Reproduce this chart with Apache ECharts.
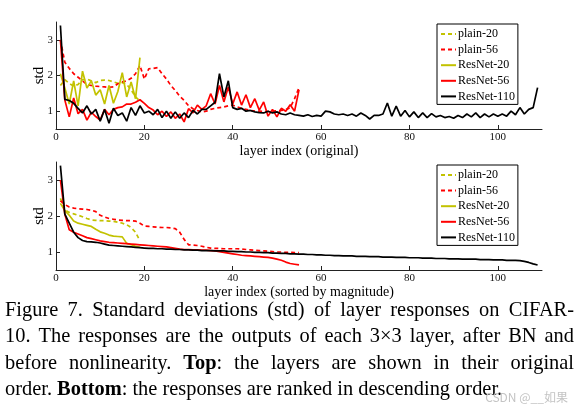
<!DOCTYPE html>
<html><head><meta charset="utf-8">
<script src="https://cdn.jsdelivr.net/npm/echarts@6/dist/echarts.min.js"></script>
<style>html,body{margin:0;padding:0;background:#fff}#c{width:580px;height:415px}</style>
</head><body><div id="c"></div><script>
// ---------- data ----------
const seriesNames = ['plain-20', 'plain-56', 'ResNet-20', 'ResNet-56', 'ResNet-110'];
const xTicks = [0, 20, 40, 60, 80, 100];
const yTicks = [1, 2, 3];
const xNameTop = 'layer index (original)';
const xNameBottom = 'layer index (sorted by magnitude)';
const yName = 'std';

// top: original order
const origPlain20 = [1.72,1.88,1.78,1.70,1.75,1.88,1.90,1.85,1.80,1.86,1.87,1.86,1.82,1.78,1.80,1.75,1.60,1.40,1.28];
const origPlain56 = [3.00,2.37,2.20,2.05,1.95,1.85,1.75,1.72,1.70,1.69,1.68,1.67,1.68,1.77,1.82,1.85,1.92,2.05,2.28,1.90,
  2.19,2.20,2.22,2.05,1.90,1.72,1.58,1.42,1.30,1.15,1.07,1.02,0.98,1.00,1.05,1.08,1.10,1.12,1.15,1.17,
  1.12,1.08,1.05,1.02,1.00,1.00,0.99,0.99,1.00,1.01,1.02,1.04,1.10,1.35,1.66];
const origRes20 = [2.05,1.65,1.20,1.85,1.15,2.12,1.65,1.85,1.45,1.60,1.20,1.72,1.22,1.55,2.08,1.40,1.82,1.35,2.50];
const origRes56 = [3.00,1.31,0.84,1.37,0.93,1.05,0.75,0.97,0.85,0.75,1.05,0.90,1.05,1.10,1.12,1.20,1.20,1.25,1.32,1.22,
  1.10,1.03,0.90,1.00,0.85,0.98,0.80,0.92,0.70,1.07,0.95,1.17,1.05,1.15,1.49,1.20,1.72,1.26,1.68,1.20,
  1.54,1.17,1.46,1.10,1.35,1.03,1.26,0.86,1.05,0.84,1.08,1.00,1.18,1.00,1.60];
const origRes110 = [3.40,1.33,1.30,1.22,1.08,0.95,1.15,0.92,1.05,0.72,1.05,0.66,1.08,0.88,0.95,0.72,1.10,0.88,1.15,0.95,
  1.00,0.90,1.05,0.82,1.00,0.80,0.98,0.80,0.95,0.82,1.02,0.92,1.05,1.05,1.15,1.25,2.05,1.40,1.85,1.10,
  1.05,1.08,1.00,1.02,0.98,0.96,0.95,1.00,0.95,0.98,0.92,0.90,0.95,0.90,0.88,0.86,0.90,0.85,0.88,0.86,
  1.00,0.98,0.92,0.90,0.92,0.88,0.92,0.86,0.95,0.88,0.78,0.88,0.88,0.92,1.23,0.86,1.14,0.86,1.02,0.84,
  0.98,0.82,0.95,0.82,0.93,0.84,0.88,0.82,0.85,0.80,0.88,0.82,0.92,0.84,0.95,0.82,0.92,0.84,0.92,0.86,
  0.92,0.86,1.00,0.90,1.10,0.92,1.05,1.10,1.66];

// bottom: sorted by magnitude
const sortPlain20 = [2.49,2.17,2.10,2.06,2.02,1.98,1.93,1.89,1.88,1.87,1.87,1.86,1.85,1.83,1.80,1.76,1.68,1.55,1.31];
const sortPlain56 = [2.42,2.32,2.25,2.22,2.20,2.19,2.18,2.16,2.12,2.02,1.97,1.93,1.91,1.89,1.88,1.87,1.87,1.86,1.80,1.72,
  1.71,1.70,1.69,1.68,1.68,1.67,1.65,1.55,1.35,1.20,1.19,1.18,1.16,1.13,1.11,1.10,1.10,1.09,1.09,1.09,
  1.09,1.08,1.07,1.06,1.05,1.04,1.03,1.02,1.01,1.00,1.00,0.99,0.99,0.98,0.98];
const sortRes20 = [2.35,2.15,2.02,1.86,1.80,1.77,1.74,1.71,1.63,1.56,1.52,1.47,1.44,1.43,1.42,1.24,1.20,1.16,1.13];
const sortRes56 = [3.00,2.05,1.62,1.55,1.50,1.45,1.40,1.37,1.34,1.31,1.29,1.27,1.26,1.25,1.24,1.23,1.22,1.21,1.20,1.19,
  1.18,1.17,1.16,1.15,1.14,1.12,1.10,1.08,1.07,1.07,1.06,1.06,1.05,1.05,1.04,1.03,1.01,0.99,0.97,0.95,
  0.93,0.91,0.90,0.89,0.88,0.87,0.86,0.85,0.83,0.80,0.77,0.72,0.68,0.66,0.64];
const sortRes110 = [3.40,2.05,1.80,1.55,1.40,1.32,1.29,1.28,1.27,1.25,1.22,1.19,1.18,1.17,1.16,1.15,1.14,1.13,1.12,1.11,
  1.10,1.10,1.09,1.09,1.08,1.08,1.07,1.07,1.06,1.06,1.05,1.05,1.04,1.04,1.04,1.03,1.03,1.03,1.02,1.02,
  1.01,1.01,1.00,1.00,0.99,0.99,0.98,0.98,0.97,0.97,0.96,0.96,0.95,0.95,0.94,0.94,0.93,0.93,0.92,0.92,
  0.91,0.91,0.90,0.90,0.89,0.89,0.89,0.88,0.88,0.88,0.87,0.87,0.87,0.86,0.86,0.86,0.85,0.85,0.85,0.84,
  0.84,0.84,0.83,0.83,0.83,0.82,0.82,0.82,0.81,0.81,0.81,0.80,0.80,0.80,0.80,0.79,0.79,0.79,0.78,0.78,
  0.78,0.77,0.77,0.77,0.76,0.74,0.71,0.67,0.64];

const captionLines = [
  'Figure 7. Standard deviations (std) of layer responses on CIFAR-',
  '10. The responses are the outputs of each 3×3 layer, after BN and',
  'before nonlinearity. *Top*: the layers are shown in their original',
  'order. *Bottom*: the responses are ranked in descending order.'
];
const watermark = 'CSDN @__如果';

// ---------- styling ----------
const serif = '"Liberation Serif", "Times New Roman", serif';
const YEL = '#c2c200', RED = '#ff0000', BLK = '#000000';
const styles = {
  'plain-20': {color: YEL, type: [4, 3]},
  'plain-56': {color: RED, type: [4, 3]},
  'ResNet-20': {color: YEL, type: 'solid'},
  'ResNet-56': {color: RED, type: 'solid'},
  'ResNet-110': {color: BLK, type: 'solid'}
};
const topData = {'plain-20': origPlain20, 'plain-56': origPlain56, 'ResNet-20': origRes20, 'ResNet-56': origRes56, 'ResNet-110': origRes110};
const botData = {'plain-20': sortPlain20, 'plain-56': sortPlain56, 'ResNet-20': sortRes20, 'ResNet-56': sortRes56, 'ResNet-110': sortRes110};

function mkSeries(dataMap, idx) {
  return seriesNames.map(n => ({
    name: n, type: 'line', xAxisIndex: idx, yAxisIndex: idx,
    data: dataMap[n].map((v, i) => [i + 1, v]),
    symbol: 'none', showSymbol: false, animation: false,
    color: styles[n].color,
    lineStyle: {color: styles[n].color, width: 1.7, type: styles[n].type},
    z: 2
  }));
}

const axisColor = '#222';
function xAxis(gi, name) {
  return {
    type: 'value', gridIndex: gi, min: 0, max: 110,
    name: name, nameLocation: 'middle', nameGap: 14,
    nameTextStyle: {fontFamily: serif, fontSize: 14, color: '#000'},
    axisLine: {lineStyle: {color: axisColor, width: 1}},
    axisTick: {inside: true, length: 4, customValues: xTicks, lineStyle: {color: axisColor}},
    axisLabel: {customValues: xTicks, margin: 3, fontFamily: serif, fontSize: 11, color: '#111'},
    splitLine: {show: false}
  };
}
function yAxis(gi) {
  return {
    type: 'value', gridIndex: gi, min: 0.5, max: 3.5,
    name: yName, nameLocation: 'middle', nameGap: 9, nameRotate: 90, nameMoveOverlap: false,
    nameTextStyle: {fontFamily: serif, fontSize: 15, color: '#000'},
    axisLine: {lineStyle: {color: axisColor, width: 1}},
    axisTick: {inside: true, length: 4, customValues: yTicks, lineStyle: {color: axisColor}},
    axisLabel: {customValues: yTicks, margin: 3, fontFamily: serif, fontSize: 11, color: '#111'},
    splitLine: {show: false}
  };
}
function legend(top) {
  return {
    left: 437, top: top, orient: 'vertical', data: seriesNames, selectedMode: false,
    itemWidth: 15, itemHeight: 10, itemGap: 3.6, padding: [4, 3, 2, 3],
    borderColor: '#000', borderWidth: 1, backgroundColor: '#fff', borderRadius: 0,
    itemStyle: {opacity: 0},
    textStyle: {fontFamily: serif, fontSize: 12, color: '#000', padding: [0, 0, 0, -3]}
  };
}

// ---------- caption (justified, word by word) ----------
const capSize = 20.4;
const ctx = document.createElement('canvas').getContext('2d');
function measure(t, bold) { ctx.font = (bold ? 'bold ' : '') + capSize + 'px ' + serif; return ctx.measureText(t).width; }
function parseWord(w) {
  const parts = [];
  const re = /\*([^*]+)\*|([^*]+)/g; let m;
  while ((m = re.exec(w))) { if (m[1]) parts.push({t: m[1], b: true}); else parts.push({t: m[2], b: false}); }
  return parts;
}
const capLeft = 5, capRight = 574;
const capYs = [310.5, 337, 363.5, 390];
const graphics = [];
captionLines.forEach((line, li) => {
  const words = line.split(' ').map(parseWord);
  const widths = words.map(ps => ps.reduce((s, p) => s + measure(p.t, p.b), 0));
  const total = widths.reduce((a, b) => a + b, 0);
  const justify = li < 3;
  const gap = justify ? (capRight - capLeft - total) / (words.length - 1) : measure(' ', false);
  let x = capLeft;
  words.forEach((ps, wi) => {
    let px = x;
    ps.forEach(p => {
      graphics.push({type: 'text', x: px, y: capYs[li], silent: true,
        style: {text: p.t, fill: '#000', fontFamily: serif, fontSize: capSize, fontWeight: p.b ? 'bold' : 'normal', align: 'left', verticalAlign: 'middle'}});
      px += measure(p.t, p.b);
    });
    x += widths[wi] + gap;
  });
});
graphics.push({type: 'text', x: 568, y: 397, silent: true, z: 10,
  style: {text: watermark, fill: '#c4c4c4', fontFamily: '"Noto Sans CJK SC", "Noto Sans", sans-serif', fontSize: 12, align: 'right', verticalAlign: 'middle'}});

const chart = echarts.init(document.getElementById('c'), null, {renderer: 'canvas'});
chart.setOption({
  animation: false,
  backgroundColor: '#fff',
  grid: [
    {left: 56, width: 486, top: 22, height: 107},
    {left: 56, width: 486, top: 162, height: 108}
  ],
  xAxis: [xAxis(0, xNameTop), xAxis(1, xNameBottom)],
  yAxis: [yAxis(0), yAxis(1)],
  legend: [legend(24), legend(165)],
  series: mkSeries(topData, 0).concat(mkSeries(botData, 1)),
  graphic: graphics
});
</script></body></html>
